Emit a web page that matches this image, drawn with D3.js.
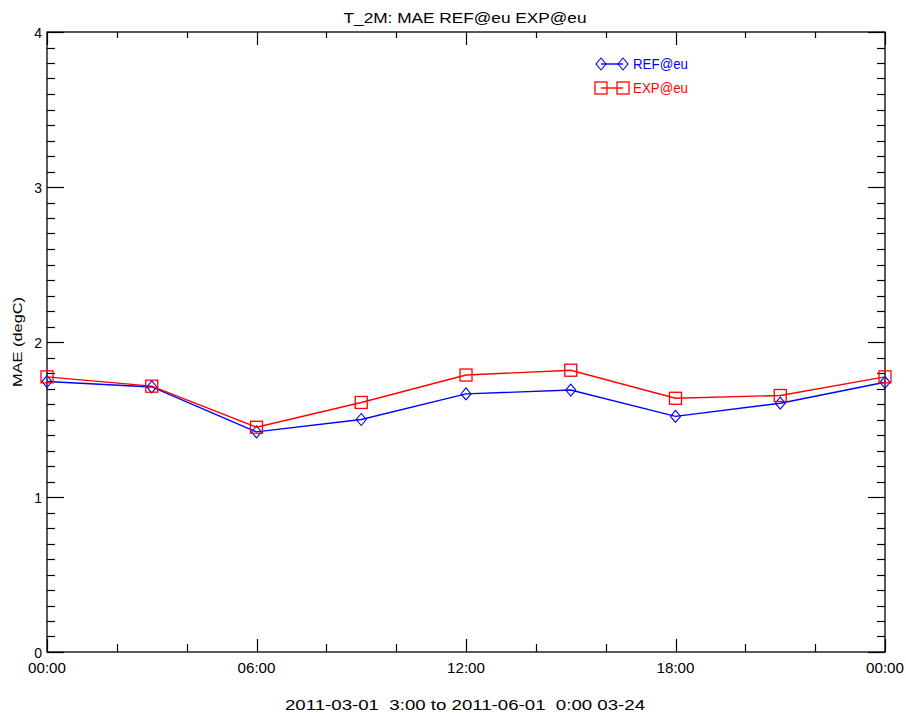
<!DOCTYPE html>
<html>
<head>
<meta charset="utf-8">
<script src="https://cdn.jsdelivr.net/npm/d3@7"></script>
<style>
  html, body { margin: 0; padding: 0; background: #fff; }
  svg text { font-family: "Liberation Sans", "DejaVu Sans", sans-serif; fill: #000; white-space: pre; }
</style>
</head>
<body>
<svg id="chart" width="906" height="713"></svg>
<script>
// Forecast hour of day (3-hourly steps over one day)
const hours = [0, 3, 6, 9, 12, 15, 18, 21, 24];
// Mean absolute error of 2 m temperature, degC
const refValues = [1.745, 1.71, 1.42, 1.50, 1.665, 1.69, 1.52, 1.605, 1.74];
const expValues = [1.775, 1.715, 1.45, 1.61, 1.787, 1.818, 1.637, 1.655, 1.775];
const xTickHours = [0, 6, 12, 18, 24];
const xTickLabels = ["00:00", "06:00", "12:00", "18:00", "00:00"];
const yTicks = [0, 1, 2, 3, 4];
const seriesNames = ["REF@eu", "EXP@eu"];
const titleText = "T_2M: MAE REF@eu EXP@eu";
const yTitle = "MAE (degC)";
const footerText = "2011-03-01  3:00 to 2011-06-01  0:00 03-24";

const svg = d3.select("#chart");
const L = 47, R = 885, T = 32, B = 652;

const x = d3.scaleLinear().domain([0, 24]).range([L, R]);
const y = d3.scaleLinear().domain([0, 4]).range([B, T]);

const axisColor = "#000";
const g = svg.append("g");

// Frame
g.append("rect").attr("x", L).attr("y", T).attr("width", R - L).attr("height", B - T)
  .attr("fill", "none").attr("stroke", axisColor).attr("stroke-width", 1.3);

// X ticks: majors every 6 h, minors every 2 h, on bottom and top
const xMinor = d3.range(0, 24.01, 2);
xMinor.forEach(h => {
  const major = h % 6 === 0;
  const px = Math.round(x(h)) + 0.5;
  g.append("line").attr("x1", px).attr("x2", px).attr("y1", B).attr("y2", B - (major ? 13 : 8))
    .attr("stroke", axisColor).attr("stroke-width", 1.2);
  g.append("line").attr("x1", px).attr("x2", px).attr("y1", T).attr("y2", T + (major ? 13 : 6))
    .attr("stroke", axisColor).attr("stroke-width", 1.2);
});

// Y ticks: majors every 1, minors every 0.1, on left and right
const yMinor = d3.range(0, 40.5, 1).map(v => v / 10);
yMinor.forEach((v, i) => {
  const major = i % 10 === 0;
  const py = Math.round(y(v)) + 0.5;
  g.append("line").attr("x1", L).attr("x2", L + (major ? 17 : 8)).attr("y1", py).attr("y2", py)
    .attr("stroke", axisColor).attr("stroke-width", 1.2);
  g.append("line").attr("x1", R).attr("x2", R - (major ? 17 : 8)).attr("y1", py).attr("y2", py)
    .attr("stroke", axisColor).attr("stroke-width", 1.2);
});

// Tick labels
xTickHours.forEach((h, i) => {
  g.append("text").attr("x", x(h)).attr("y", 673).attr("text-anchor", "middle")
    .attr("font-size", 14).attr("textLength", 38).attr("lengthAdjust", "spacingAndGlyphs")
    .text(xTickLabels[i]);
});
yTicks.forEach(v => {
  g.append("text").attr("x", 42).attr("y", y(v) + 6).attr("text-anchor", "end")
    .attr("font-size", 14).text(String(v));
});

// Titles
svg.append("text").attr("x", 465).attr("y", 23).attr("text-anchor", "middle")
  .attr("font-size", 15).attr("textLength", 243).attr("lengthAdjust", "spacingAndGlyphs")
  .text(titleText);
svg.append("text").attr("transform", "translate(22,342) rotate(-90)").attr("text-anchor", "middle")
  .attr("font-size", 13).attr("textLength", 90).attr("lengthAdjust", "spacingAndGlyphs")
  .text(yTitle);
svg.append("text").attr("x", 465).attr("y", 710).attr("text-anchor", "middle")
  .attr("font-size", 14).attr("textLength", 360).attr("lengthAdjust", "spacingAndGlyphs")
  .text(footerText);

// Series
const line = d3.line().x((d, i) => x(hours[i])).y(d => y(d));
const series = [
  { name: seriesNames[0], values: refValues, color: "#0000ff", symbol: "diamond" },
  { name: seriesNames[1], values: expValues, color: "#ff0000", symbol: "square" }
];

function drawMarker(sel, cx, cy, symbol, color) {
  if (symbol === "diamond") {
    sel.append("path")
      .attr("d", `M${cx},${cy - 6}L${cx + 5},${cy}L${cx},${cy + 6}L${cx - 5},${cy}Z`)
      .attr("fill", "none").attr("stroke", color).attr("stroke-width", 1.1);
  } else {
    sel.append("rect").attr("x", cx - 6).attr("y", cy - 6).attr("width", 12).attr("height", 12)
      .attr("fill", "none").attr("stroke", color).attr("stroke-width", 1.3);
  }
}

series.forEach(s => {
  const sg = svg.append("g");
  sg.append("path").datum(s.values).attr("d", line)
    .attr("fill", "none").attr("stroke", s.color).attr("stroke-width", 1.4);
  s.values.forEach((v, i) => drawMarker(sg, x(hours[i]), y(v), s.symbol, s.color));
});

// Legend
series.forEach((s, i) => {
  const ly = 64 + i * 24;
  const lg = svg.append("g");
  lg.append("line").attr("x1", 601).attr("x2", 623).attr("y1", ly).attr("y2", ly)
    .attr("stroke", s.color).attr("stroke-width", 1.4);
  drawMarker(lg, 601, ly, s.symbol, s.color);
  drawMarker(lg, 623, ly, s.symbol, s.color);
  lg.append("text").attr("x", 633).attr("y", ly + 5).attr("font-size", 14)
    .attr("textLength", 55).attr("lengthAdjust", "spacingAndGlyphs")
    .style("fill", s.color).text(s.name);
});
</script>
</body>
</html>
